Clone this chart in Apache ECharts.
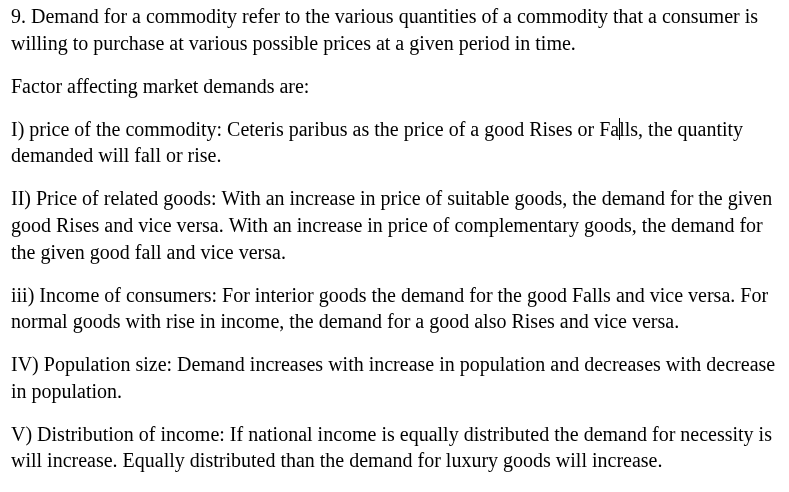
<!DOCTYPE html>
<html>
<head>
<meta charset="utf-8">
<script src="https://cdn.jsdelivr.net/npm/echarts@6/dist/echarts.min.js"></script>
<style>
html, body { margin: 0; padding: 0; background: #fff; }
#main { width: 789px; height: 492px; }
</style>
</head>
<body>
<div id="main"></div>
<script>
// each paragraph is a list of its wrapped lines
let para1 = [
    "9. Demand for a commodity refer to the various quantities of a commodity that a consumer is",
    "willing to purchase at various possible prices at a given period in time."
];
let para2 = ["Factor affecting market demands are:"];
let para3 = [
    "I) price of the commodity: Ceteris paribus as the price of a good Rises or Falls, the quantity",
    "demanded will fall or rise."
];
let para4 = [
    "II) Price of related goods: With an increase in price of suitable goods, the demand for the given",
    "good Rises and vice versa. With an increase in price of complementary goods, the demand for",
    "the given good fall and vice versa."
];
let para5 = [
    "iii) Income of consumers: For interior goods the demand for the good Falls and vice versa. For",
    "normal goods with rise in income, the demand for a good also Rises and vice versa."
];
let para6 = [
    "IV) Population size: Demand increases with increase in population and decreases with decrease",
    "in population."
];
let para7 = [
    "V) Distribution of income: If national income is equally distributed the demand for necessity is",
    "will increase. Equally distributed than the demand for luxury goods will increase."
];
let paragraphs = [para1, para2, para3, para4, para5, para6, para7];
// text cursor sits after this prefix of the first line of para3
let cursorPrefix = "I) price of the commodity: Ceteris paribus as the price of a good Rises or Fa";

const font = '20px "Liberation Serif", "Times New Roman", serif';
const leftX = 11;
let chart = echarts.init(document.getElementById("main"));
let elements = [];
let y = 8;   // top of first line
const lineGap = 26.6;
const paraGap = 43;
let cursorY = 0;
for (let p = 0; p < paragraphs.length; p++) {
    let lines = paragraphs[p];
    for (let i = 0; i < lines.length; i++) {
        if (p === 2 && i === 0) cursorY = y;
        elements.push({
            type: 'text',
            x: leftX,
            y: y,
            style: {
                text: lines[i],
                fill: '#000',
                font: font
            }
        });
        if (i < lines.length - 1) y += lineGap;
    }
    y += paraGap;
}
let ctx = document.createElement('canvas').getContext('2d');
ctx.font = font;
let cx = Math.round(leftX + ctx.measureText(cursorPrefix).width) + 0.5;
elements.push({
    type: 'line',
    shape: { x1: cx, y1: Math.round(cursorY) - 3, x2: cx, y2: Math.round(cursorY) + 19 },
    style: { stroke: '#000', lineWidth: 1 }
});
chart.setOption({
    backgroundColor: '#fff',
    graphic: { elements: elements }
});
</script>
</body>
</html>
